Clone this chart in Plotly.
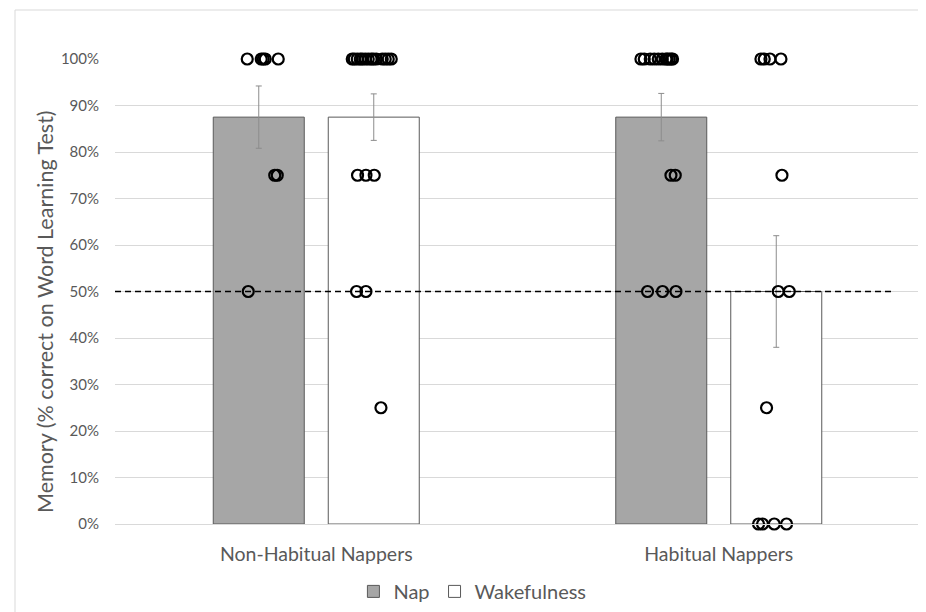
import plotly.graph_objects as go

# ---------------- data ----------------
groups = ["Non-Habitual Nappers", "Habitual Nappers"]
conditions = ["Nap", "Wakefulness"]

nap_mean = [87.5, 87.5]
nap_err = [6.7, 5.1]
wake_mean = [87.5, 50.0]
wake_err = [5.0, 12.0]

chance_level = 50

# individual scores (%) and horizontal jitter (pixels from bar centre)
nh_nap_scores = [100, 100, 100, 100, 100, 75, 75, 50]
nh_nap_jitter = [-11.5, 2.5, 4.5, 6.5, 19.5, 16.0, 18.5, -10.5]

nh_wake_scores = [100] * 14 + [75, 75, 75, 50, 50, 25]
nh_wake_jitter = [-21.5, -19.5, -16.5, -13.5, -11.5, -8.5, -5.5, -2.5, -0.5, 2.5,
                  8.5, 11.5, 14.5, 17.5, -16.2, -7.8, 0.5, -17.2, -7.8, 7.2]

h_nap_scores = [100] * 11 + [75, 75, 50, 50, 50]
h_nap_jitter = [-20.3, -17.0, -11.0, -7.0, -3.0, 1.0, 4.7, 6.0, 8.0, 10.0, 11.3,
                9.7, 14.0, -13.7, 1.3, 14.7]

h_wake_scores = [100, 100, 100, 100, 75, 50, 50, 25, 0, 0, 0, 0]
h_wake_jitter = [-15.3, -12.0, -6.3, 4.7, 5.7, 2.0, 13.0, -9.7, -17.7, -13.7, -2.0, 10.3]

y_title = "Memory (% correct on Word Learning Test)"

# ---------------- layout constants ----------------
# The page body has an 8px margin, so the figure is drawn 8px smaller and offset.
FIG_W, FIG_H = 918, 604
M_L, M_R, M_T, M_B = 107, 6, 51, 88
PLOT_W = FIG_W - M_L - M_R
PLOT_H = FIG_H - M_T - M_B

PX_PER_UNIT = PLOT_W / 2.0
BAR_OFFSET = 57.5 / PX_PER_UNIT
BAR_WIDTH = 91.0 / PX_PER_UNIT

GRID = "#d9d9d9"
TEXT = "#595959"
FONT = "Lato, 'Open Sans', sans-serif"

xi = list(range(len(groups)))
x_nap = [i - BAR_OFFSET for i in xi]
x_wake = [i + BAR_OFFSET for i in xi]

fig = go.Figure()

fig.add_trace(go.Bar(
    x=x_nap, y=nap_mean, width=BAR_WIDTH, name="Nap",
    marker=dict(color="#a6a6a6", line=dict(color="#595959", width=1)),
    error_y=dict(type="data", array=nap_err, color="#8c8c8c", thickness=1, width=3),
))
fig.add_trace(go.Bar(
    x=x_wake, y=wake_mean, width=BAR_WIDTH, name="Wakefulness",
    marker=dict(color="#ffffff", line=dict(color="#595959", width=1)),
    error_y=dict(type="data", array=wake_err, color="#8c8c8c", thickness=1, width=3),
))

# chance line
fig.add_shape(type="line", xref="x", yref="y",
              x0=-0.5, x1=1.5 - 27.0 / PX_PER_UNIT, y0=chance_level, y1=chance_level,
              line=dict(color="black", width=1.5, dash="6px,4px"), layer="above")


def dots(center, scores, jitter):
    xs = [center + j / PX_PER_UNIT for j in jitter]
    fig.add_trace(go.Scatter(
        x=xs, y=scores, mode="markers", showlegend=False, cliponaxis=False,
        marker=dict(symbol="circle-open", size=11, color="black",
                    line=dict(color="black", width=2.2)),
        hoverinfo="y",
    ))


dots(x_nap[0], nh_nap_scores, nh_nap_jitter)
dots(x_wake[0], nh_wake_scores, nh_wake_jitter)
dots(x_nap[1], h_nap_scores, h_nap_jitter)
dots(x_wake[1], h_wake_scores, h_wake_jitter)

# outer chart border (Excel style), left edge at window x=15, top at window y=10
fig.add_shape(type="rect", xref="paper", yref="paper",
              x0=(7 - M_L) / PLOT_W, x1=1.2, y0=-0.5, y1=(PLOT_H + M_T - 2) / PLOT_H,
              line=dict(color=GRID, width=1), fillcolor="rgba(0,0,0,0)", layer="below")

# y-axis title (placed like Excel's, slightly below the plot centre)
fig.add_annotation(text=y_title, textangle=-90, xref="paper", yref="paper",
                   x=(37 - M_L) / PLOT_W, y=(PLOT_H + M_T - 304) / PLOT_H,
                   xanchor="center", yanchor="middle", showarrow=False,
                   font=dict(size=21.5, color=TEXT, family=FONT))

fig.update_layout(
    width=FIG_W, height=FIG_H,
    margin=dict(l=M_L, r=M_R, t=M_T, b=M_B, autoexpand=False),
    paper_bgcolor="white", plot_bgcolor="white",
    font=dict(family=FONT, color=TEXT, size=14),
    barmode="overlay",
    showlegend=True,
    legend=dict(orientation="h", x=0.444, xanchor="center", y=-0.103, yanchor="top",
                font=dict(size=20, color=TEXT), itemwidth=30,
                traceorder="normal"),
    xaxis=dict(range=[-0.5, 1.5], tickvals=xi, ticktext=groups,
               showgrid=False, zeroline=False, showline=True, linecolor=GRID,
               linewidth=1, ticks="", ticklabelstandoff=13,
               tickfont=dict(size=19.5, color=TEXT)),
    yaxis=dict(range=[0, 100], tickvals=list(range(0, 101, 10)),
               ticktext=[f"{v}%" for v in range(0, 101, 10)],
               showgrid=True, gridcolor=GRID, gridwidth=1, zeroline=False,
               showline=False, ticks="", ticklen=0, ticklabelstandoff=15,
               tickfont=dict(size=15, color=TEXT)),
)

fig.write_html("out.html")
